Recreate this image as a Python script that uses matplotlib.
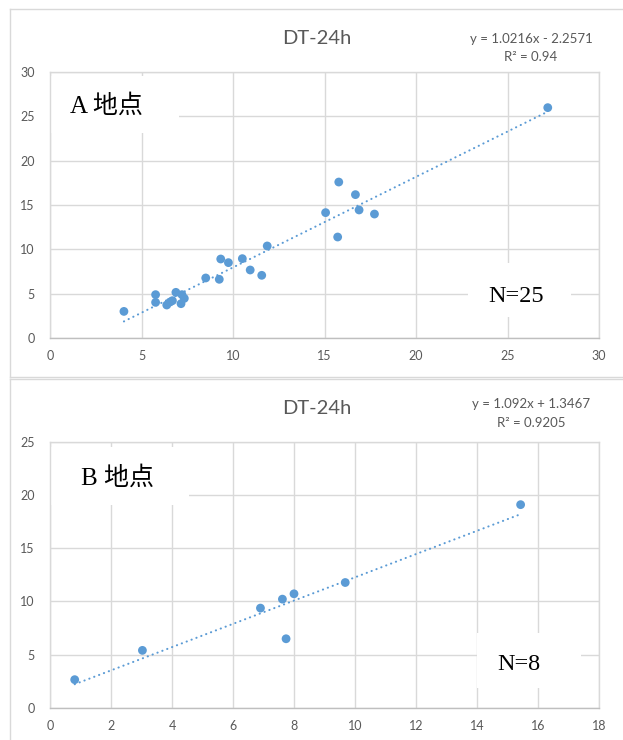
import matplotlib
matplotlib.use("Agg")
import matplotlib.pyplot as plt
from matplotlib.lines import Line2D
from matplotlib.patches import Rectangle
import numpy as np

# ---------------- data ----------------
title = "DT-24h"

a_x = [4.04, 5.77, 5.77, 6.38, 6.56, 6.69, 6.88, 7.16, 7.21, 7.34, 8.51, 9.25, 9.33,
       9.75, 10.51, 10.94, 11.57, 11.87, 15.06, 15.72, 15.78, 16.69, 16.89, 17.73, 27.2]
a_y = [3.0, 4.89, 4.02, 3.72, 4.06, 4.21, 5.15, 3.87, 4.89, 4.47, 6.77, 6.62, 8.91,
       8.50, 8.95, 7.67, 7.07, 10.38, 14.14, 11.39, 17.59, 16.17, 14.44, 13.98, 25.98]
a_slope, a_intercept = 1.0216, -2.2571
a_eq = "y = 1.0216x - 2.2571"
a_r2 = "R² = 0.94"
a_label = "A 地点"
a_n = "N=25"
a_xticks = [0, 5, 10, 15, 20, 25, 30]
a_yticks = [0, 5, 10, 15, 20, 25, 30]

b_x = [0.81, 3.03, 6.90, 7.62, 8.00, 7.74, 9.68, 15.43]
b_y = [2.66, 5.41, 9.38, 10.22, 10.72, 6.50, 11.78, 19.09]
b_slope, b_intercept = 1.092, 1.3467
b_eq = "y = 1.092x + 1.3467"
b_r2 = "R² = 0.9205"
b_label = "B 地点"
b_n = "N=8"
b_xticks = [0, 2, 4, 6, 8, 10, 12, 14, 16, 18]
b_yticks = [0, 5, 10, 15, 20, 25]

# ---------------- style ----------------
BLUE = "#5B9BD5"
GRID = "#D9D9D9"
AXIS = "#BFBFBF"
TXT = "#595959"
SANS = ["Lato", "DejaVu Sans"]
SERIF = ["Liberation Serif", "Noto Sans CJK JP", "DejaVu Sans"]

fig = plt.figure(figsize=(6.23, 7.40), dpi=100)
fig.patch.set_facecolor("white")

W, H = 623.0, 740.0

def fx(px):
    return px / W

def fy(py):
    return 1 - py / H

# chart-area borders
for (x0, y0, x1, y1) in [(10, 9, 623, 9), (10, 9, 10, 376.5), (10, 376.5, 623, 376.5),
                         (10, 379, 623, 379), (10, 379, 10, 740)]:
    fig.add_artist(Line2D([fx(x0), fx(x1)], [fy(y0), fy(y1)], color=GRID, lw=1.0))


def panel(rect, xs, ys, slope, intercept, xticks, yticks, label, n, boxes, title_y, eq_y, eq, r2):
    ax = fig.add_axes(rect)
    ax.set_xlim(xticks[0], xticks[-1])
    ax.set_ylim(yticks[0], yticks[-1])
    ax.set_xticks(xticks)
    ax.set_yticks(yticks)
    ax.grid(True, color=GRID, lw=1.0, zorder=0)
    ax.set_axisbelow(True)
    for s in ["top", "right", "left"]:
        ax.spines[s].set_color(GRID)
        ax.spines[s].set_linewidth(1.0)
    ax.spines["bottom"].set_color(AXIS)
    ax.spines["bottom"].set_linewidth(1.0)
    ax.tick_params(length=0, colors=TXT, labelsize=9)
    ax.tick_params(axis="x", pad=9)
    ax.tick_params(axis="y", pad=11)
    for lab in ax.get_xticklabels() + ax.get_yticklabels():
        lab.set_family(SANS)

    (lb, nb, lt, nt) = boxes
    for (x0, x1, y0, y1) in (lb, nb):
        ax.add_patch(Rectangle((x0, y0), x1 - x0, y1 - y0, transform=ax.transAxes,
                               facecolor="white", edgecolor="none", zorder=1))

    xl = np.array([min(xs), max(xs)])
    ax.plot(xl, slope * xl + intercept, color=BLUE, lw=1.5, dashes=(0.1, 2.4),
            dash_capstyle="round", zorder=2)
    ax.scatter(xs, ys, s=40, color=BLUE, edgecolors="none", zorder=3)

    ax.text(lt[0], lt[1], label, transform=ax.transAxes, family=SERIF, fontsize=18,
            va="baseline", ha="left", color="black", zorder=4)
    ax.text(nt[0], nt[1], n, transform=ax.transAxes, family=SERIF, fontsize=17.5,
            va="baseline", ha="left", color="black", zorder=4)

    fig.text(fx(317), title_y, title, family=SANS, fontsize=14.5, color=TXT,
             ha="center", va="center")
    fig.text(fx(531), eq_y[0], eq, family=SANS, fontsize=9.5, color=TXT,
             ha="center", va="center")
    fig.text(fx(531), eq_y[1], r2, family=SANS, fontsize=9.5, color=TXT,
             ha="center", va="center")
    return ax


panel([fx(50), fy(338), (599 - 50) / W, (338 - 72) / H],
      a_x, a_y, a_slope, a_intercept, a_xticks, a_yticks, a_label, a_n,
      ((0.0, 0.235, 0.771, 0.985), (0.761, 0.949, 0.079, 0.282), (0.036, 0.846), (0.798, 0.135)),
      fy(38), (fy(39), fy(57)), a_eq, a_r2)

panel([fx(50), fy(708), (599 - 50) / W, (708 - 441.7) / H],
      b_x, b_y, b_slope, b_intercept, b_xticks, b_yticks, b_label, b_n,
      ((0.0, 0.253, 0.762, 0.980), (0.778, 0.967, 0.075, 0.282), (0.0557, 0.837), (0.814, 0.143)),
      fy(408), (fy(404), fy(423)), b_eq, b_r2)

fig.savefig("out.png", dpi=100, facecolor="white")
